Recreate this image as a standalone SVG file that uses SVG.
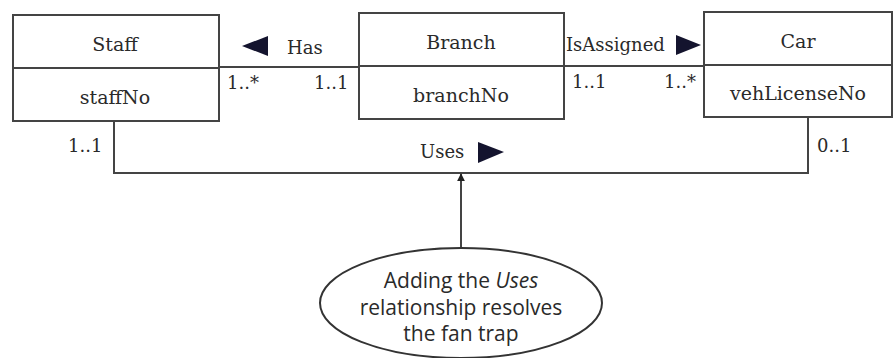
<svg xmlns="http://www.w3.org/2000/svg" width="895" height="358" viewBox="0 0 895 358">
<defs>
<style>
.box{fill:#fff;stroke:#444;stroke-width:2}
.ln{fill:none;stroke:#444;stroke-width:2}
.t{font-family:"DejaVu Serif",serif;font-size:19px;fill:#2a2a2a;text-anchor:middle}
.m{font-family:"DejaVu Serif",serif;font-size:18px;fill:#2a2a2a}
.e{font-family:"Open Sans","Noto Sans",sans-serif;font-size:21px;fill:#2a2a2a;text-anchor:middle}
.tri{fill:#14142e}
</style>
<marker id="ah" viewBox="0 0 10 10" refX="9" refY="5" markerWidth="8" markerHeight="10" orient="auto" markerUnits="userSpaceOnUse">
<path d="M0,0 L10,5 L0,10 z" fill="#222"/>
</marker>
</defs>
<rect width="895" height="358" fill="#fff"/>
<g id="connectors">
<line class="ln" x1="219" y1="67" x2="359" y2="67"/>
<line class="ln" x1="564" y1="66" x2="704" y2="66"/>
<polyline class="ln" points="114,121 114,173 808,173 808,117"/>
<line class="ln" x1="461" y1="248" x2="461" y2="174" marker-end="url(#ah)"/>
<polygon class="tri" points="242,46 268,36 268,56"/>
<text class="m" x="287" y="54">Has</text>
<text class="m" x="227" y="89">1..*</text>
<text class="m" x="314" y="89">1..1</text>
<text class="m" x="566" y="51">IsAssigned</text>
<polygon class="tri" points="676,35 701,45 676,55"/>
<text class="m" x="572" y="88">1..1</text>
<text class="m" x="664" y="88">1..*</text>
<text class="m" x="68" y="152">1..1</text>
<text class="m" x="817" y="152">0..1</text>
<text class="m" x="420" y="158">Uses</text>
<polygon class="tri" points="478,142 504,152 478,163"/>
</g>
<g id="staff">
<rect class="box" x="13" y="15" width="206" height="106"/>
<line class="ln" x1="13" y1="68" x2="219" y2="68"/>
<text class="t" x="115" y="51">Staff</text>
<text class="t" x="115" y="104">staffNo</text>
</g>
<g id="branch">
<rect class="box" x="359" y="13" width="205" height="106"/>
<line class="ln" x1="359" y1="66" x2="564" y2="66"/>
<text class="t" x="461" y="49">Branch</text>
<text class="t" x="461" y="102">branchNo</text>
</g>
<g id="car">
<rect class="box" x="704" y="12" width="188" height="105"/>
<line class="ln" x1="704" y1="65" x2="892" y2="65"/>
<text class="t" x="798" y="48">Car</text>
<text class="t" x="798" y="100">vehLicenseNo</text>
</g>
<g id="note">
<ellipse cx="461" cy="303" rx="141" ry="55" fill="#fff" stroke="#333" stroke-width="2"/>
<text class="e" x="461" y="288">Adding the <tspan font-style="italic">Uses</tspan></text>
<text class="e" x="461" y="315">relationship resolves</text>
<text class="e" x="461" y="341">the fan trap</text>
</g>
</svg>
